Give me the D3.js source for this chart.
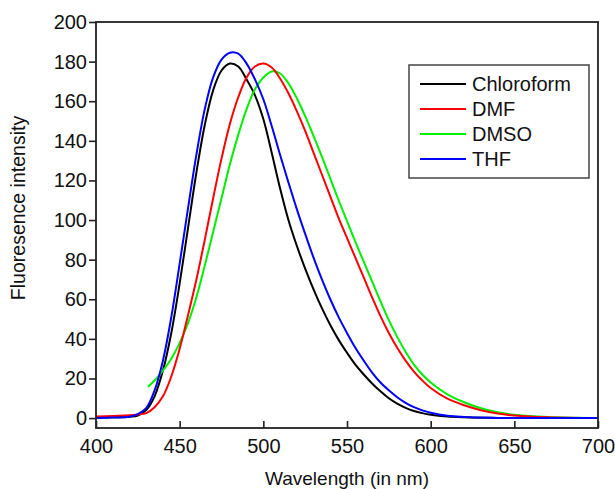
<!DOCTYPE html>
<html>
<head>
<meta charset="utf-8">
<script src="https://cdn.jsdelivr.net/npm/d3@7"></script>
<style>
  html, body { margin: 0; padding: 0; background: #fff; }
  svg { display: block; font-family: "Liberation Sans", Arial, sans-serif; }
</style>
</head>
<body>
<svg id="chart" width="615" height="489"></svg>
<script>
// ---- data ----
const wavelengths = [400,410,420,425,430,435,440,445,450,455,460,465,470,475,480,485,490,495,500,505,510,515,520,525,530,535,540,545,550,555,560,565,570,575,580,585,590,595,600,610,620,630,640,650,670,700];
const chloroform = [0.2,0.4,0.7,1.3,4,11,24,43,68,96,124,148,165.5,175.5,179,177.5,171,163,151,134,116,100,87,75.5,65,55.5,47,39.5,33,27,22,17.5,13.5,10,7.3,5.2,3.6,2.5,1.7,0.8,0.4,0.2,0.1,0.1,0,0];
const thf = [0,0.3,0.7,2,5,14,29,51,78,106,133,156,172,181,184.5,184,179,171,161,147.5,133,119,105.5,93,81,70,60,51,43,35.5,29,23,18,14,10.5,7.7,5.5,3.9,2.7,1.2,0.6,0.3,0.1,0,0,0];
const dmf = [0.8,1.1,1.4,1.8,2.5,5.5,11,21,35,52,70,90,111,131,148.5,162,172,177.5,179,177,171.5,164,155,145,134,123,112,101,91,81,71,61,51.5,43,35.5,29,23.5,19,15.2,9.8,6.5,4,2.3,1.3,0.4,0];
const wavelengthsDMSO = [431,435,440,445,450,455,460,465,470,475,480,485,490,495,500,505,510,515,520,525,530,535,540,545,550,555,560,565,570,575,580,585,590,595,600,610,620,630,640,650,670,700];
const dmso = [15.8,19,24,30,38,48,61,77,94,111,128,143,156,166,172,175,174,169,161.5,152.5,142.5,132,121,110,99.5,89,79,69,59,49.5,41,33.5,27,22,18,12,8,5,3,1.7,0.5,0];

const seriesNames = ["Chloroform", "DMF", "DMSO", "THF"];
const seriesColors = ["#000000", "#ff0000", "#00ee00", "#0000ff"];
const xTicks = [400,450,500,550,600,650,700];
const yTicks = [0,20,40,60,80,100,120,140,160,180,200];

const series = [
  { name: seriesNames[0], color: seriesColors[0], x: wavelengths, y: chloroform },
  { name: seriesNames[2], color: seriesColors[2], x: wavelengthsDMSO, y: dmso },
  { name: seriesNames[1], color: seriesColors[1], x: wavelengths, y: dmf },
  { name: seriesNames[3], color: seriesColors[3], x: wavelengths, y: thf }
];

// ---- layout ----
const L = 96, R = 598, T = 22, B = 428;
const FONT = "Liberation Sans, Arial, sans-serif";
const svg = d3.select("#chart");
const x = d3.scaleLinear().domain([400, 700]).range([L, R]);
const y = d3.scaleLinear().domain([-5, 200]).range([B, T]);

// curves
const line = d3.line().x(d => x(d[0])).y(d => y(d[1])).curve(d3.curveCatmullRom.alpha(0.5));
const plot = svg.append("g");
series.forEach(s => {
  plot.append("path")
    .datum(s.x.map((v, i) => [v, s.y[i]]))
    .attr("fill", "none")
    .attr("stroke", s.color)
    .attr("stroke-width", 2)
    .attr("d", line);
});

// frame
svg.append("rect")
  .attr("x", L).attr("y", T).attr("width", R - L).attr("height", B - T)
  .attr("fill", "none").attr("stroke", "#222").attr("stroke-width", 1.8);

// y axis
const ya = svg.append("g").attr("transform", `translate(${L},0)`)
  .call(d3.axisLeft(y).tickValues(yTicks).tickSize(7).tickPadding(2));
ya.select(".domain").remove();
ya.selectAll(".tick line").attr("stroke", "#222").attr("stroke-width", 1.6);
ya.selectAll(".tick text").attr("font-size", 20).attr("fill", "#111").attr("font-family", FONT);

// x axis (ticks inward)
const xa = svg.append("g").attr("transform", `translate(0,${B})`)
  .call(d3.axisBottom(x).tickValues(xTicks).tickSize(-7).tickPadding(11));
xa.select(".domain").remove();
xa.selectAll(".tick line").attr("stroke", "#222").attr("stroke-width", 1.6);
xa.selectAll(".tick text").attr("font-size", 20).attr("fill", "#111").attr("font-family", FONT);

// axis titles
svg.append("text")
  .attr("x", 347).attr("y", 485)
  .attr("text-anchor", "middle").attr("font-size", 19).attr("fill", "#111")
  .text("Wavelength (in nm)");
svg.append("text")
  .attr("transform", `translate(25,208) rotate(-90)`)
  .attr("text-anchor", "middle").attr("font-size", 19.5).attr("fill", "#111")
  .text("Fluoresence intensity");

// legend
const lg = svg.append("g");
lg.append("rect").attr("x", 409).attr("y", 65).attr("width", 180).attr("height", 113)
  .attr("fill", "#fff").attr("stroke", "#444").attr("stroke-width", 1.5);
const rowY = d3.scalePoint().domain(seriesNames).range([84, 159]);
seriesNames.forEach((n, i) => {
  lg.append("line").attr("x1", 420).attr("x2", 466)
    .attr("y1", rowY(n)).attr("y2", rowY(n))
    .attr("stroke", seriesColors[i]).attr("stroke-width", 1.8);
  lg.append("text").attr("x", 472).attr("y", rowY(n)).attr("dy", "0.36em")
    .attr("font-size", 20).attr("fill", "#111").text(n);
});
</script>
</body>
</html>
